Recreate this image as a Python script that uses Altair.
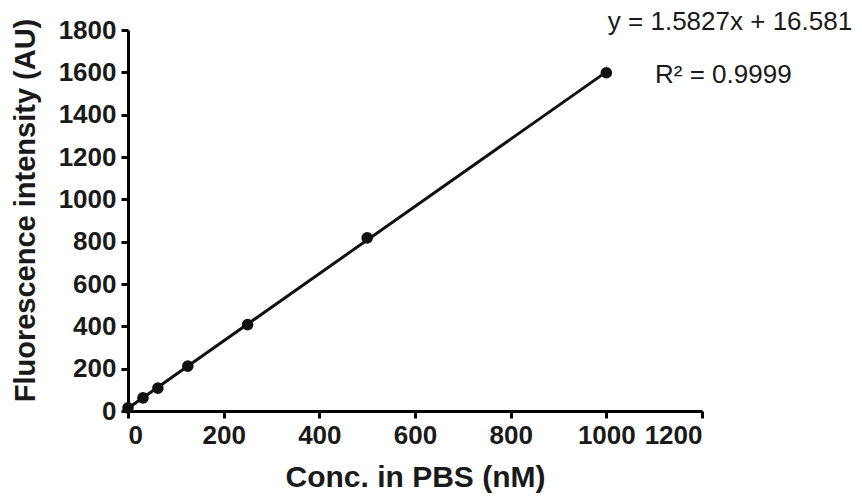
import altair as alt
import pandas as pd

conc = [0, 31.25, 62.5, 125, 250, 500, 1000]
intensity = [15, 62, 108, 212, 408, 818, 1598]
equation = "y = 1.5827x + 16.581"
r2 = "R\u00b2 = 0.9999"

df = pd.DataFrame({"conc": conc, "intensity": intensity})
FONT = "Liberation Sans"

xs = alt.Scale(domain=[0, 1200], nice=False)
ys = alt.Scale(domain=[0, 1800], nice=False)

xaxis = alt.Axis(values=[0, 200, 400, 600, 800, 1000, 1200], grid=False, format="d",
                 domainColor="black", domainWidth=3, tickColor="black", tickWidth=3,
                 tickSize=7, labelFont=FONT, labelFontSize=26, labelFontWeight="bold",
                 labelColor="#1a1a1a", labelPadding=4, title="Conc. in PBS (nM)",
                 titleFont=FONT, titleFontSize=30, titleFontWeight="bold",
                 titleColor="#1a1a1a", titlePadding=14)
yaxis = alt.Axis(values=list(range(0, 1801, 200)), grid=False, format="d",
                 domainColor="black", domainWidth=3, tickColor="black", tickWidth=3,
                 tickSize=7, labelFont=FONT, labelFontSize=26, labelFontWeight="bold",
                 labelColor="#1a1a1a", labelPadding=5, title="Fluorescence intensity (AU)",
                 titleFont=FONT, titleFontSize=29, titleFontWeight="bold",
                 titleColor="#1a1a1a", titlePadding=18, titleY=180)

base = alt.Chart(df)

line = base.transform_regression("conc", "intensity", extent=[0, 1000]).mark_line(
    color="#111111", strokeWidth=3, clip=False
).encode(x=alt.X("conc:Q", scale=xs, axis=xaxis), y=alt.Y("intensity:Q", scale=ys, axis=yaxis))

pts = base.mark_point(filled=True, color="#111111", size=135, opacity=1).encode(
    x=alt.X("conc:Q", scale=xs), y=alt.Y("intensity:Q", scale=ys))

eq = alt.Chart(pd.DataFrame({"t": [equation]})).mark_text(
    font=FONT, fontSize=26, color="#1a1a1a", align="center", baseline="middle"
).encode(text="t:N", x=alt.value(602), y=alt.value(-8))

rr = alt.Chart(pd.DataFrame({"t": [r2]})).mark_text(
    font=FONT, fontSize=26, color="#1a1a1a", align="left", baseline="middle"
).encode(text="t:N", x=alt.value(527), y=alt.value(45))

chart = alt.layer(line, pts, eq, rr).properties(
    width=574, height=381,
    autosize=alt.AutoSizeParams(type="none"),
    padding={"left": 128, "top": 30, "right": 160, "bottom": 90},
).configure(background="white", view=alt.ViewConfig(stroke=None))

chart.save("out.html", embed_options={"renderer": "svg", "actions": False})
